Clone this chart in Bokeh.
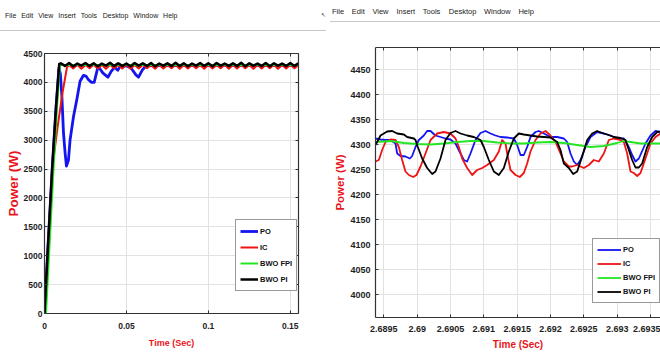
from bokeh.plotting import figure
from bokeh.models import Range1d, LinearAxis, FixedTicker, Legend, LegendItem, Div
from bokeh.layouts import row, column
from bokeh.embed import file_html
from bokeh.resources import INLINE

# ---------------- data ----------------
MENU_WORDS = ["File", "Edit", "View", "Insert", "Tools", "Desktop", "Window", "Help"]
SERIES = ["PO", "IC", "BWO FPI", "BWO PI"]
COLORS = {"PO": "#1414f0", "IC": "#ee1414", "BWO FPI": "#22e622", "BWO PI": "#000000"}
X_TITLE = "Time (Sec)"
Y_TITLE = "Power (W)"

# left panel (start-up transient)
L_XTICKS = [0, 0.05, 0.1, 0.15]
L_XTICK_LABELS = ["0", "0.05", "0.1", "0.15"]
L_YTICKS = [0, 500, 1000, 1500, 2000, 2500, 3000, 3500, 4000, 4500]

ss_t = [0.010, 0.0125, 0.015, 0.0175, 0.020, 0.0225, 0.025, 0.0275, 0.030, 0.0325,
        0.035, 0.0375, 0.040, 0.0425, 0.045, 0.0475, 0.050, 0.0525, 0.055, 0.0575,
        0.060, 0.0625, 0.065, 0.0675, 0.070, 0.0725, 0.075, 0.0775, 0.080, 0.0825,
        0.085, 0.0875, 0.090, 0.0925, 0.095, 0.0975, 0.100, 0.1025, 0.105, 0.1075,
        0.110, 0.1125, 0.115, 0.1175, 0.120, 0.1225, 0.125, 0.1275, 0.130, 0.1325,
        0.135, 0.1375, 0.140, 0.1425, 0.145, 0.1475, 0.150, 0.1525, 0.155]
pi_ss_p = [4330, 4285, 4335, 4280, 4325, 4290, 4335, 4285, 4330, 4280,
           4325, 4290, 4340, 4285, 4330, 4285, 4325, 4280, 4335, 4290,
           4330, 4285, 4335, 4280, 4325, 4290, 4330, 4285, 4340, 4285,
           4330, 4280, 4325, 4290, 4335, 4285, 4330, 4280, 4335, 4290,
           4325, 4285, 4330, 4285, 4340, 4280, 4330, 4290, 4325, 4285,
           4335, 4280, 4330, 4290, 4325, 4285, 4335, 4285, 4330]
ic_ss_p = [4300, 4240, 4305, 4235, 4300, 4245, 4305, 4240, 4300, 4235,
           4305, 4245, 4300, 4240, 4305, 4235, 4300, 4240, 4305, 4245,
           4300, 4235, 4305, 4240, 4300, 4245, 4305, 4235, 4300, 4240,
           4305, 4245, 4300, 4235, 4305, 4240, 4300, 4245, 4305, 4235,
           4300, 4240, 4305, 4245, 4300, 4235, 4305, 4240, 4300, 4245,
           4305, 4235, 4300, 4240, 4305, 4245, 4300]

L_po_t = [0, 0.0023, 0.0047, 0.0070, 0.0088, 0.0097, 0.0106, 0.0116, 0.0126, 0.0134,
          0.0146, 0.0156, 0.0177, 0.0197, 0.0217, 0.0237, 0.0253, 0.0267, 0.0287, 0.0303,
          0.0317, 0.0327, 0.0337, 0.0357, 0.0387, 0.0407, 0.0427, 0.0447, 0.0462, 0.0498,
          0.0528, 0.0558, 0.0574, 0.0598, 0.0618, 0.0658, 0.1000, 0.1550]
L_po_p = [0, 1250, 2500, 3550, 4250, 4150, 3760, 3120, 2770, 2550,
          2650, 3000, 3410, 3700, 4020, 4120, 4110, 4050, 4000, 4000,
          4160, 4280, 4240, 4160, 4090, 4190, 4260, 4210, 4280, 4290,
          4250, 4130, 4090, 4220, 4280, 4290, 4295, 4295]
L_ic_t = [0, 0.0023, 0.0047, 0.0080, 0.0110, 0.0137] + ss_t[2:]
L_ic_p = [0, 1250, 2500, 3230, 3820, 4260] + ic_ss_p
L_fpi_t = [0.0009, 0.0032, 0.0055, 0.0076, 0.0094, 0.155]
L_fpi_p = [0, 1250, 2500, 3550, 4300, 4300]
L_pi_t = [0, 0.0023, 0.0047, 0.0070, 0.0090] + ss_t
L_pi_p = [0, 1250, 2500, 3550, 4320] + pi_ss_p

# right panel (steady-state zoom)
R_XTICKS = [2.6895, 2.69, 2.6905, 2.691, 2.6915, 2.692, 2.6925, 2.693, 2.6935]
R_XTICK_LABELS = ["2.6895", "2.69", "2.6905", "2.691", "2.6915", "2.692", "2.6925", "2.693", "2.6935"]
R_YTICKS = [4000, 4050, 4100, 4150, 4200, 4250, 4300, 4350, 4400, 4450]

R_pi_t = [2.689375, 2.68945, 2.68955, 2.689625, 2.6897, 2.6898, 2.68985, 2.68995, 2.689975, 2.69001,
          2.690075, 2.69015, 2.690225, 2.690275, 2.69035, 2.690425, 2.6905, 2.690575, 2.69065, 2.69075,
          2.69085, 2.69095, 2.691, 2.691075, 2.69115, 2.691225, 2.6913, 2.691375, 2.69145, 2.691525,
          2.6916, 2.6917, 2.6918, 2.6919, 2.692, 2.6921, 2.69215, 2.6922, 2.692275, 2.69234,
          2.6924, 2.692475, 2.69255, 2.692625, 2.6927, 2.692775, 2.69285, 2.69295, 2.69305, 2.693125,
          2.693175, 2.693225, 2.693275, 2.693325, 2.693375, 2.69345, 2.693525, 2.6936, 2.69365]
R_pi_p = [4299, 4318, 4326, 4327, 4322, 4320, 4315, 4312, 4309, 4295,
          4272, 4253, 4241, 4246, 4272, 4309, 4323, 4327, 4322, 4318,
          4315, 4309, 4295, 4269, 4246, 4239, 4253, 4286, 4312, 4322,
          4320, 4318, 4316, 4315, 4314, 4305, 4289, 4262, 4253, 4241,
          4246, 4276, 4309, 4322, 4327, 4323, 4320, 4315, 4313, 4309,
          4289, 4269, 4254, 4254, 4262, 4295, 4315, 4325, 4326]

R_po_t = [2.689375, 2.68945, 2.689525, 2.6896, 2.689675, 2.6897, 2.68975, 2.689825, 2.68989, 2.689925,
          2.689975, 2.690025, 2.6901, 2.69015, 2.6902, 2.690275, 2.69035, 2.690425, 2.6905, 2.690575,
          2.69065, 2.6907, 2.69075, 2.6908, 2.690875, 2.69095, 2.691025, 2.6911, 2.691175, 2.69125,
          2.69135, 2.69145, 2.6915, 2.69155, 2.6916, 2.69165, 2.6917, 2.691775, 2.691825, 2.6919,
          2.692, 2.6921, 2.6922, 2.69225, 2.6923, 2.69235, 2.6924, 2.69245, 2.692525, 2.6926,
          2.6927, 2.6928, 2.6929, 2.693, 2.6931, 2.693175, 2.693225, 2.693275, 2.693325, 2.693425,
          2.6935, 2.693575, 2.69365]
R_po_p = [4312, 4310, 4309, 4309, 4302, 4282, 4277, 4276, 4272, 4277,
          4295, 4309, 4318, 4327, 4327, 4318, 4315, 4312, 4310, 4302,
          4282, 4269, 4266, 4282, 4309, 4323, 4327, 4322, 4318, 4315,
          4314, 4312, 4299, 4279, 4279, 4295, 4315, 4325, 4327, 4322,
          4315, 4315, 4312, 4305, 4282, 4266, 4259, 4269, 4295, 4315,
          4325, 4322, 4318, 4312, 4312, 4295, 4279, 4266, 4272, 4302,
          4318, 4327, 4325]

R_ic_t = [2.689375, 2.689425, 2.689475, 2.689525, 2.6896, 2.689675, 2.689725, 2.689775, 2.689825, 2.689875,
          2.68994, 2.68999, 2.69005, 2.690125, 2.6902, 2.6903, 2.6904, 2.6905, 2.690575, 2.690625,
          2.690675, 2.69075, 2.690825, 2.6909, 2.690975, 2.69105, 2.69115, 2.691225, 2.691275, 2.691325,
          2.69135, 2.6914, 2.691475, 2.69154, 2.6916, 2.69165, 2.6917, 2.691775, 2.69185, 2.691925,
          2.692, 2.692075, 2.69215, 2.6922, 2.692275, 2.692325, 2.6924, 2.6925, 2.692575, 2.69265,
          2.692725, 2.6928, 2.692875, 2.69295, 2.693025, 2.6931, 2.69315, 2.6932, 2.69325, 2.6933,
          2.69335, 2.693425, 2.6935, 2.693575, 2.69365]
R_ic_p = [4266, 4269, 4289, 4305, 4310, 4309, 4295, 4269, 4246, 4239,
          4235, 4239, 4256, 4282, 4309, 4322, 4325, 4322, 4312, 4295,
          4272, 4253, 4239, 4249, 4253, 4259, 4269, 4286, 4309, 4302,
          4282, 4249, 4239, 4235, 4243, 4262, 4286, 4309, 4322, 4327,
          4318, 4305, 4282, 4266, 4256, 4256, 4259, 4253, 4259, 4269,
          4266, 4282, 4309, 4312, 4310, 4305, 4282, 4246, 4243, 4237,
          4243, 4272, 4302, 4315, 4322]

R_fpi_t = [2.689375, 2.6896, 2.6898, 2.69, 2.6902, 2.6904, 2.6906, 2.6908, 2.691, 2.6912,
           2.6914, 2.6916, 2.6918, 2.692, 2.6922, 2.6924, 2.6926, 2.6928, 2.693, 2.6931,
           2.6932, 2.69335, 2.6935, 2.69365]
R_fpi_p = [4305, 4307, 4303, 4301, 4300, 4302, 4305, 4307, 4307, 4304,
           4302, 4302, 4304, 4305, 4303, 4299, 4295, 4297, 4303, 4307,
           4305, 4302, 4302, 4302]

# ---------------- styling helpers ----------------
FONT = "Liberation Sans"
RED_LBL = "#e8161b"
AX = "#333333"


def menubar(width, height, x_words, text_top, font_px, line_top, line_w, icon=None):
    spans = []
    for w, x in zip(MENU_WORDS, x_words):
        spans.append(
            f'<span style="position:absolute;left:{x}px;top:{text_top}px;'
            f'line-height:{font_px + 1}px;">{w}</span>')
    if icon is not None:
        spans.append(
            f'<span style="position:absolute;left:{icon[0]}px;top:{icon[1]}px;'
            f'font-family:\'DejaVu Sans\';font-size:6px;line-height:7px;">&#8598;</span>')
    spans.append(
        f'<div style="position:absolute;left:0px;top:{line_top}px;width:{line_w}px;'
        f'height:1px;background:#c6c6c6;"></div>')
    html = (f'<div style="position:relative;width:{width}px;height:{height}px;'
            f"font-family:'{FONT}';font-size:{font_px}px;color:#222222;"
            f'white-space:nowrap;">' + "".join(spans) + "</div>")
    return Div(text=html, width=width, height=height, margin=0)


def style_axis(ax, ticks, font_size, standoff, labels=None, show=True):
    ax.ticker = FixedTicker(ticks=ticks, minor_ticks=[])
    ax.major_tick_in = 3
    ax.major_tick_out = 0
    ax.minor_tick_line_color = None
    ax.axis_line_color = AX
    ax.axis_line_width = 1.2
    ax.major_tick_line_color = AX
    if show:
        ax.major_label_text_font = FONT
        ax.major_label_text_font_style = "bold"
        ax.major_label_text_font_size = font_size
        ax.major_label_text_color = "#1e1e1e"
        ax.major_label_standoff = standoff
        if labels is not None:
            ax.major_label_overrides = dict(zip(ticks, labels))
    else:
        ax.major_label_text_font_size = "1px"
        ax.major_label_text_color = None
        ax.major_label_standoff = 0


def title_axis(ax, text, font_size, standoff):
    ax.axis_label = text
    ax.axis_label_text_font = FONT
    ax.axis_label_text_font_style = "bold"
    ax.axis_label_text_font_size = font_size
    ax.axis_label_text_color = RED_LBL
    ax.axis_label_standoff = standoff


def panel(width, height, xr, yr, borders, xticks, xlabels, yticks, fs, xstand, ystand,
          right_axis, xt, yt):
    p = figure(width=width, height=height, x_range=Range1d(*xr), y_range=Range1d(*yr),
               output_backend="svg", toolbar_location=None,
               min_border_left=borders[0], min_border_right=borders[1],
               min_border_top=borders[2], min_border_bottom=borders[3])
    p.outline_line_color = None
    p.background_fill_color = "white"
    p.border_fill_color = "white"
    style_axis(p.below[0], xticks, fs, xstand, xlabels)
    style_axis(p.left[0], yticks, fs, ystand)
    title_axis(p.below[0], X_TITLE, xt[0], xt[1])
    title_axis(p.left[0], Y_TITLE, yt[0], yt[1])
    top = LinearAxis()
    style_axis(top, xticks, fs, 0, show=False)
    p.add_layout(top, "above")
    if right_axis:
        rt = LinearAxis()
        style_axis(rt, yticks, fs, 0, show=False)
        p.add_layout(rt, "right")
    p.grid.grid_line_color = "#e2e2e2"
    p.grid.grid_line_width = 1
    return p


def add_series(p, data, widths):
    rs = {}
    for name in SERIES:
        t, v = data[name]
        rs[name] = p.line(t, v, line_color=COLORS[name], line_width=widths[name],
                          line_join="round")
    return rs


def add_legend(p, rs, loc, gh, gw, pad, spacing, fs):
    lg = Legend(items=[LegendItem(label=n, renderers=[rs[n]]) for n in SERIES],
                location=loc, glyph_height=gh, label_height=gh, glyph_width=gw,
                label_standoff=2, padding=pad, spacing=spacing, margin=0,
                border_line_color=AX, border_line_width=1,
                background_fill_color="white", background_fill_alpha=1.0,
                label_text_font=FONT, label_text_font_style="bold",
                label_text_font_size=fs, label_text_color="#111111")
    p.add_layout(lg)


# ---------------- left panel ----------------
mL = menubar(330, 32, [5, 21.2, 38.2, 58.3, 80.7, 102.7, 133.3, 163.1], 11.5, 7, 30, 326,
             icon=(321, 11))
pL = panel(330, 322, (0, 0.155), (0, 4500), (44, 32, 21, 41),
           L_XTICKS, L_XTICK_LABELS, L_YTICKS, "8.5px", 9, 2, True,
           ("9px", 6), ("13.5px", 0))
rL = add_series(pL, {"PO": (L_po_t, L_po_p), "IC": (L_ic_t, L_ic_p),
                     "BWO FPI": (L_fpi_t, L_fpi_p), "BWO PI": (L_pi_t, L_pi_p)},
                {"PO": 2.8, "IC": 2, "BWO FPI": 2, "BWO PI": 2.5})
add_legend(pL, rL, (191, 22), 14, 18, 4, 2, "7.5px")

# ---------------- right panel ----------------
mR = menubar(330, 22, [2, 21.8, 42.4, 66.4, 92.8, 118.8, 154, 188.4], 8, 7.5, 21, 330)
pR = panel(330, 332, (2.689375, 2.69365), (3954, 4494), (45, 0, 25, 37),
           R_XTICKS, R_XTICK_LABELS, R_YTICKS, "9px", 8, 5, False,
           ("10px", 4), ("11.5px", 1))
rR = add_series(pR, {"PO": (R_po_t, R_po_p), "IC": (R_ic_t, R_ic_p),
                     "BWO FPI": (R_fpi_t, R_fpi_p), "BWO PI": (R_pi_t, R_pi_p)},
                {"PO": 1.8, "IC": 1.8, "BWO FPI": 1.8, "BWO PI": 1.8})
add_legend(pR, rR, (217, 14), 13, 24, 4, 1, "7.5px")

layout = row(column(mL, pL), column(mR, pR))
open("out.html", "w").write(file_html(layout, INLINE))
